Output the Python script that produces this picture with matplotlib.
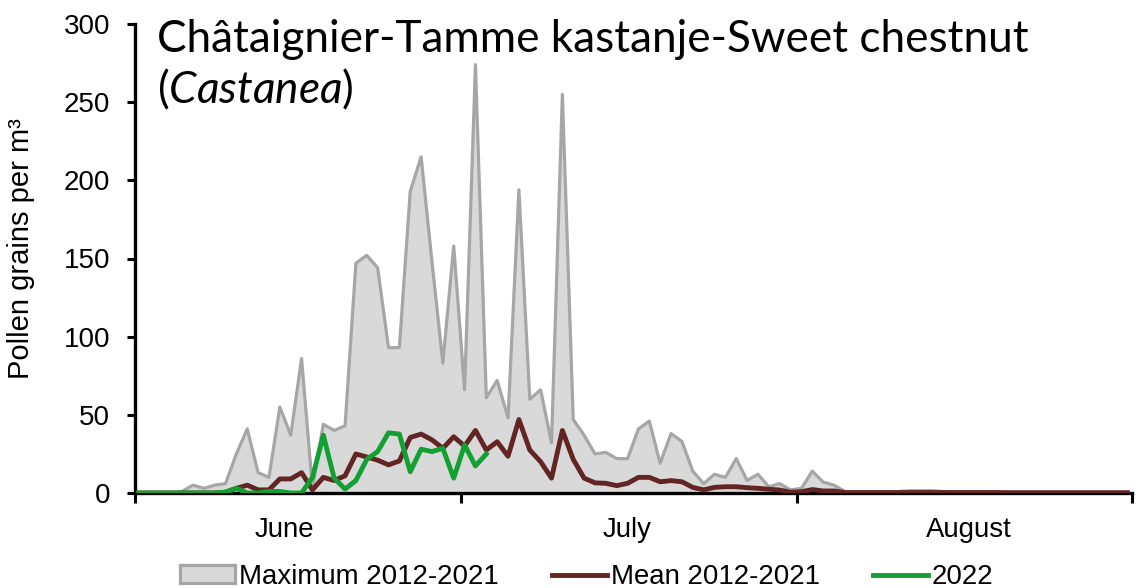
import matplotlib
matplotlib.use("Agg")
import matplotlib.pyplot as plt
import numpy as np
from matplotlib.patches import Patch
from matplotlib.lines import Line2D
from matplotlib import font_manager as fm

# ---------------- data ----------------
month_names = ["June", "July", "August"]
series_names = ["Maximum 2012-2021", "Mean 2012-2021", "2022"]

max_2012_2021 = [0, 0, 0, 0, 1, 5, 3, 5, 6, 25,
                 41, 13, 10, 55, 37, 86, 3, 44, 40, 43,
                 147, 152, 144, 93, 93, 193, 215, 148, 83, 158,
                 66, 274, 61, 72, 48, 194, 60, 66, 32, 255,
                 47, 37, 25, 26, 22, 22, 41, 46, 19, 38,
                 33, 14, 6, 12, 10, 22, 8, 12, 4, 6,
                 2, 3, 14, 7, 5, 1, 0.5, 0.5, 0.5, 0.5,
                 1, 1.5, 1.5, 1.5, 1, 0.5, 0.5, 0.5, 0.5, 0.5,
                 0.5, 0.5, 0.5, 0.5, 0.5, 0.5, 0.5, 0.5, 0.5, 0.5,
                 0.5, 0.5]

mean_2012_2021 = [0, 0, 0, 0, 0, 0, 0, 0, 0.5, 3,
                  5, 2, 2, 9, 9, 13, 2, 10, 8, 11,
                  25, 23, 21, 18, 20.5, 35.5, 37.7, 34, 28.6, 36,
                  30, 40, 27.5, 32.8, 23.5, 47, 27.5, 20, 9.5, 40,
                  21.5, 9.5, 6.5, 6.2, 4.7, 6.2, 10, 10, 7.2, 7.9,
                  7.2, 3.6, 2, 3.6, 4, 4, 3.4, 3, 2.4, 1.9,
                  0.5, 0.8, 2.2, 1.3, 1.3, 0.3, 0.3, 0.3, 0.3, 0.3,
                  0.3, 0.3, 0.3, 0.3, 0.3, 0.3, 0.3, 0.3, 0.3, 0.3,
                  0.2, 0.2, 0.2, 0.2, 0.2, 0.2, 0.2, 0.2, 0.2, 0.2,
                  0.2, 0.2]

year_2022 = [0, 0, 0, 0, 0, 0, 0, 0, 0.5, 3,
             0, 0, 1, 1, 0, 0, 10, 37, 9.5, 2.5,
             8, 21.5, 26.5, 38.5, 37.7, 13.6, 28, 26.5, 28.6, 9.5,
             30.7, 17.3, 25]

y_ticks = [0, 50, 100, 150, 200, 250, 300]

# ---------------- style / layout ----------------
W, H = 1143, 588
DPI = 100
fig = plt.figure(figsize=(W / DPI, H / DPI), dpi=DPI)

avail = {f.name for f in fm.fontManager.ttflist}
narrow = "Liberation Sans Narrow" if "Liberation Sans Narrow" in avail else "Liberation Sans"
title_font = "Lato"

plt.rcParams["mathtext.fontset"] = "custom"
plt.rcParams["mathtext.rm"] = title_font
plt.rcParams["mathtext.it"] = title_font + ":italic"

left_px, right_px, top_px, bot_px = 135, 1132, 24, 493
ax = fig.add_axes([left_px / W, 1 - bot_px / H, (right_px - left_px) / W, (bot_px - top_px) / H])

x_max = np.arange(len(max_2012_2021))
x_mean = np.arange(len(mean_2012_2021))
x_22 = np.arange(len(year_2022))

GREY_FILL, GREY_EDGE, MEAN_C, GREEN_C = "#d9d9d9", "#a6a6a6", "#632523", "#12a032"

ax.fill_between(x_max, max_2012_2021, 0, color=GREY_FILL, lw=0, zorder=1)
ax.plot(x_max, max_2012_2021, color=GREY_EDGE, lw=2.3, zorder=2)
ax.plot(x_mean, mean_2012_2021, color=MEAN_C, lw=3.5, zorder=3)
ax.plot(x_22, year_2022, color=GREEN_C, lw=3.5, zorder=4)

ax.set_ylim(0, 300)
ax.set_xlim(-0.33, 91.42)
ax.set_yticks(y_ticks)
ax.set_yticklabels([str(v) for v in y_ticks], fontname="Liberation Sans", fontsize=20)

# fit the narrow-looking text size to the reference legend width
probe = fig.text(0, 0, series_names[0], fontname=narrow, fontsize=20)
fig.canvas.draw()
r = fig.canvas.get_renderer()
small_fs = 20 * 259 / probe.get_window_extent(r).width
probe.remove()

ax.set_xticks([-0.33, 29.67, 60.6, 91.42])
ax.set_xticklabels([])
ax.set_xticks([13.4, 45.0, 76.4], minor=True)
ax.set_xticklabels(month_names, minor=True, fontname=narrow, fontsize=small_fs)
ax.tick_params(axis="x", which="minor", length=0, pad=17)
ax.tick_params(axis="x", which="major", length=7, width=2.2, direction="out")
ax.tick_params(axis="y", length=6, width=2.2, direction="out", pad=12)

for s in ["top", "right"]:
    ax.spines[s].set_visible(False)
for s in ["left", "bottom"]:
    ax.spines[s].set_linewidth(2.4)
    ax.spines[s].set_color("black")
ax.set_facecolor("none")

# y label
fig.text(21 / W, 1 - 249 / H, "Pollen grains per m³", rotation=90, ha="center", va="center",
         fontname="Liberation Sans", fontsize=21)

# title, fitted to the reference width
line1 = "Châtaignier-Tamme kastanje-Sweet chestnut"
t1 = fig.text(157 / W, 1 - 52 / H, line1, ha="left", va="baseline", fontname=title_font, fontsize=34)
fig.canvas.draw()
wpx = t1.get_window_extent(r).width
fs = 34 * 873 / wpx
t1.set_fontsize(fs)
fig.text(157 / W, 1 - 103 / H, r"($\mathit{Castanea}$)", ha="left", va="baseline",
         fontname=title_font, fontsize=fs)

# legend
em = small_fs * DPI / 72.0
handles = [Patch(facecolor=GREY_FILL, edgecolor=GREY_EDGE, linewidth=2.3),
           Line2D([], [], color=MEAN_C, lw=3.5),
           Line2D([], [], color=GREEN_C, lw=3.5)]
leg = fig.legend(handles, series_names, loc="center left", bbox_to_anchor=(180 / W, 1 - 577 / H),
                 ncol=3, frameon=False, prop={"family": narrow, "size": small_fs},
                 handlelength=55 / em, handleheight=17 / em, handletextpad=4 / em,
                 columnspacing=53 / em, borderpad=0, borderaxespad=0)

fig.savefig("out.png", dpi=DPI)
